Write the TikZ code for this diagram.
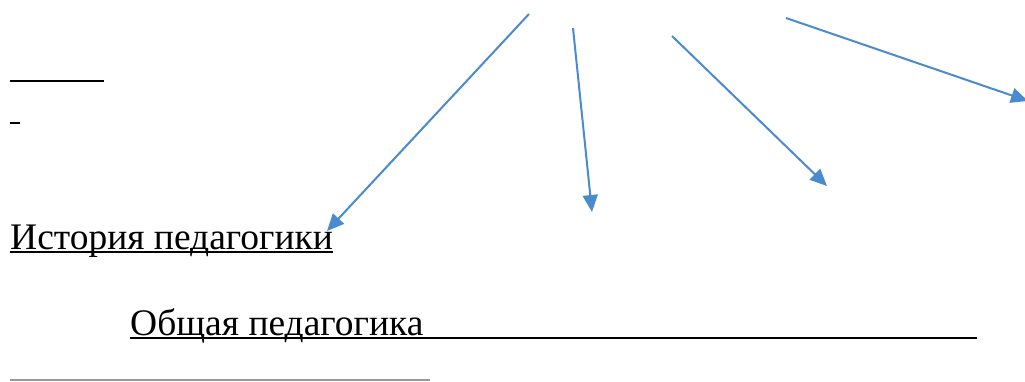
\documentclass[tikz,border=0pt]{standalone}
\usepackage{fontspec}
\setmainfont{Liberation Serif}
\usetikzlibrary{arrows.meta}
\definecolor{arrowblue}{RGB}{74,138,206}

\begin{document}
\begin{tikzpicture}[x=1pt, y=-1pt,
        label/.style={inner sep=0pt, anchor=base west, font=\fontsize{37.5}{42}\selectfont},
        uline/.style={line width=2.4pt},
        pointer/.style={arrowblue, line width=2pt, -{Triangle[length=17pt, width=15pt]}}]
        \useasboundingbox (0,0) rectangle (1025,381);

        \node[label] (hist) at (10, 249) {История педагогики};
        \node[label] (gen) at (130, 335) {Общая педагогика};

        \draw[uline] ([yshift=-3pt]hist.base west) -- ([yshift=-3pt]hist.base east);
        \draw[uline] ([yshift=-3pt]gen.base west) -- (977, 338);

        \draw[uline] (10, 81) -- (104, 81);
        \draw[uline] (10, 123) -- (20, 123);
        \draw[gray!80, line width=1.8pt] (10, 380) -- (430, 380);

        \coordinate (s1) at (529, 14);
        \coordinate (s2) at (573, 28);
        \coordinate (s3) at (672, 36);
        \coordinate (s4) at (786, 18);

        \coordinate (e1) at (327, 231);
        \coordinate (e2) at (592, 212);
        \coordinate (e3) at (827, 186);
        \coordinate (e4) at (1028, 101);

        \draw[pointer] (s1) -- (e1);
        \draw[pointer] (s2) -- (e2);
        \draw[pointer] (s3) -- (e3);
        \draw[pointer] (s4) -- (e4);
    \end{tikzpicture}
\end{document}
